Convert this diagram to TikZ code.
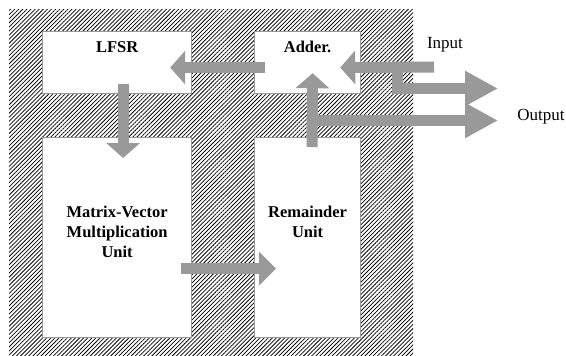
\documentclass[tikz,border=0pt]{standalone}
\usepackage{fontspec}
\setmainfont{Liberation Serif}
\usetikzlibrary{arrows.meta,patterns.meta,calc}

\definecolor{arrowgray}{gray}{0.6}
\definecolor{boxgray}{gray}{0.6}

\tikzset{
	unit/.style={draw=boxgray, line width=1.2pt, fill=white, inner sep=0pt, anchor=north west},
	unitname/.style={font=\bfseries\fontsize{16.5}{20}\selectfont, align=center},
	pin/.style={font=\fontsize{17}{20}\selectfont},
	bus/.style={draw=arrowgray, line width=11pt, line join=miter,
		-{Triangle[length=15pt, width=33pt, color=arrowgray]}},
	widebus/.style={bus, -{Triangle[length=33pt, width=33pt, color=arrowgray]}}
}

\begin{document}
\begin{tikzpicture}[x=1pt, y=-1pt]
	\useasboundingbox (0,0) rectangle (566,356);
	
	%%%%% hatched chip area %%%%%
	\fill[pattern={Lines[angle=45, distance=2.9pt, line width=0.75pt]}] (9,9) rectangle (413,355);
	
	%%%%% units %%%%%
	\node[unit, minimum width=149pt, minimum height=62pt] (lfsr) at (42,31) {};
	\node[unit, minimum width=106pt, minimum height=62pt] (adder) at (254,31) {};
	\node[unit, minimum width=149pt, minimum height=200pt] (mvm) at (42,137) {};
	\node[unit, minimum width=106pt, minimum height=200pt] (rem) at (254,137) {};
	
	\node[unitname] (lfsr-t) at ($(lfsr.north)+(0,16)$) {LFSR};
	\node[unitname] (adder-t) at ($(adder.north)+(0,16)$) {Adder.};
	\node[unitname] (mvm-t) at ($(mvm.north)+(0,95)$) {Matrix-Vector\\Multiplication\\Unit};
	\node[unitname] (rem-t) at ($(rem.north)+(0,85)$) {Remainder\\Unit};
	
	%%%%% pins %%%%%
	\node[pin] (input) at (445,45) {Input};
	\node[pin] (output) at (541,117) {Output};
	
	\coordinate (in-end) at (434,67);
	\coordinate (tap) at (397,67);
	\coordinate (out-a) at (498,88.5);
	\coordinate (out-b) at (498,120.5);
	\coordinate (rem-up) at (312,147);
	\coordinate (rem-out) at (312,120.5);
	
	%%%%% buses %%%%%
	\draw[bus] ($(adder.west)+(11,5)$) -- ($(lfsr.east)+(-22,5)$);
	\draw[bus] ($(lfsr.south)+(6,-10)$) -- ($(mvm.north)+(6,21)$);
	\draw[bus] (in-end) -- ($(adder.east)+(-21,5)$);
	\draw[widebus] (tap) |- (out-a);
	\draw[bus] (rem-up) -- ($(adder.south)+(5,-21)$);
	\draw[widebus] (rem-out) -- (out-b);
	\draw[bus, -{Triangle[length=17pt, width=33pt, color=arrowgray]}] ($(mvm.east)+(-11,31)$) -- ($(rem.west)+(22,31)$);
	
\end{tikzpicture}
\end{document}
